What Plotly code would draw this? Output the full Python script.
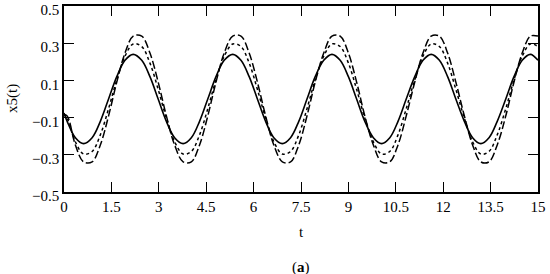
import plotly.graph_objects as go

# sample times and the three x5(t) curves
t = [0.0, 0.10, 0.36, 0.62, 0.89, 1.15, 1.41, 1.67, 1.93, 2.19, 2.46, 2.72, 2.98,
     3.24, 3.50, 3.77, 4.03, 4.29, 4.55, 4.81, 5.07, 5.34, 5.60, 5.86, 6.12,
     6.38, 6.64, 6.91, 7.17, 7.43, 7.69, 7.95, 8.22, 8.48, 8.74, 9.00, 9.26,
     9.52, 9.79, 10.05, 10.31, 10.57, 10.83, 11.10, 11.36, 11.62, 11.88, 12.14, 12.40,
     12.67, 12.93, 13.19, 13.45, 13.71, 13.98, 14.24, 14.50, 14.76, 15.0]

x5_solid = [-0.075,
            -0.12, -0.208, -0.24, -0.208, -0.12, 0.0, 0.12, 0.208, 0.24, 0.208, 0.12, 0.0,
            -0.12, -0.208, -0.24, -0.208, -0.12, 0.0, 0.12, 0.208, 0.24, 0.208, 0.12, 0.0,
            -0.12, -0.208, -0.24, -0.208, -0.12, 0.0, 0.12, 0.208, 0.24, 0.208, 0.12, 0.0,
            -0.12, -0.208, -0.24, -0.208, -0.12, 0.0, 0.12, 0.208, 0.24, 0.208, 0.12, 0.0,
            -0.12, -0.208, -0.24, -0.208, -0.12, 0.0, 0.12, 0.208, 0.24, 0.208]

x5_dotted = [-0.08,
             -0.103, -0.230, -0.296, -0.282, -0.193, -0.052, 0.103, 0.230, 0.296, 0.282, 0.193, 0.052,
             -0.103, -0.230, -0.296, -0.282, -0.193, -0.052, 0.103, 0.230, 0.296, 0.282, 0.193, 0.052,
             -0.103, -0.230, -0.296, -0.282, -0.193, -0.052, 0.103, 0.230, 0.296, 0.282, 0.193, 0.052,
             -0.103, -0.230, -0.296, -0.282, -0.193, -0.052, 0.103, 0.230, 0.296, 0.282, 0.193, 0.052,
             -0.103, -0.230, -0.296, -0.282, -0.193, -0.052, 0.103, 0.230, 0.296, 0.282]

x5_dashed = [-0.085,
             -0.091, -0.247, -0.338, -0.338, -0.247, -0.091, 0.091, 0.247, 0.338, 0.338, 0.247, 0.091,
             -0.091, -0.247, -0.338, -0.338, -0.247, -0.091, 0.091, 0.247, 0.338, 0.338, 0.247, 0.091,
             -0.091, -0.247, -0.338, -0.338, -0.247, -0.091, 0.091, 0.247, 0.338, 0.338, 0.247, 0.091,
             -0.091, -0.247, -0.338, -0.338, -0.247, -0.091, 0.091, 0.247, 0.338, 0.338, 0.247, 0.091,
             -0.091, -0.247, -0.338, -0.338, -0.247, -0.091, 0.091, 0.247, 0.338, 0.338]

FONT = "Liberation Serif"

fig = go.Figure()
fig.add_trace(go.Scatter(x=t, y=x5_dashed, mode="lines", line_shape="spline",
                         line=dict(color="black", width=1.5, dash="8px,3px")))
fig.add_trace(go.Scatter(x=t, y=x5_dotted, mode="lines", line_shape="spline",
                         line=dict(color="black", width=1.5, dash="3px,3px")))
fig.add_trace(go.Scatter(x=t, y=x5_solid, mode="lines", line_shape="spline",
                         line=dict(color="black", width=1.6)))

axis_style = dict(showline=True, linecolor="black", linewidth=1.5, mirror="allticks",
                  ticks="inside", ticklen=10, tickwidth=1.3, tickcolor="black",
                  showgrid=False, zeroline=False, automargin=False,
                  ticklabeloverflow="allow",
                  tickfont=dict(family=FONT, size=15, color="black"))

fig.update_layout(
    width=550, height=274,
    margin=dict(l=64, r=12, t=6, b=82),
    plot_bgcolor="white", paper_bgcolor="white",
    showlegend=False,
    font=dict(family=FONT, size=15, color="black"),
    xaxis=dict(range=[0, 15], tick0=0, dtick=1.5, **axis_style),
    yaxis=dict(range=[-0.5, 0.5], tick0=-0.5, dtick=0.2, ticklabelshift=4, **axis_style),
    annotations=[
        dict(text="t", xref="paper", yref="paper", x=0.5, y=0, yshift=-40,
             xanchor="center", yanchor="middle",
             showarrow=False, font=dict(family=FONT, size=15)),
        dict(text="x5(t)", xref="paper", yref="paper", x=0, y=0.5, xshift=-52,
             xanchor="center", yanchor="middle",
             textangle=-90, showarrow=False, font=dict(family=FONT, size=15)),
        dict(text="(<b>a</b>)", xref="paper", yref="paper", x=0.5, y=0,
             yshift=-75, xanchor="center", yanchor="middle",
             showarrow=False, font=dict(family=FONT, size=15)),
    ],
)

# the page body has a default 8px margin; drop it so the figure fills the window
fig.write_html("out.html", config={"displayModeBar": False},
               post_script="document.body.style.margin='0';")
